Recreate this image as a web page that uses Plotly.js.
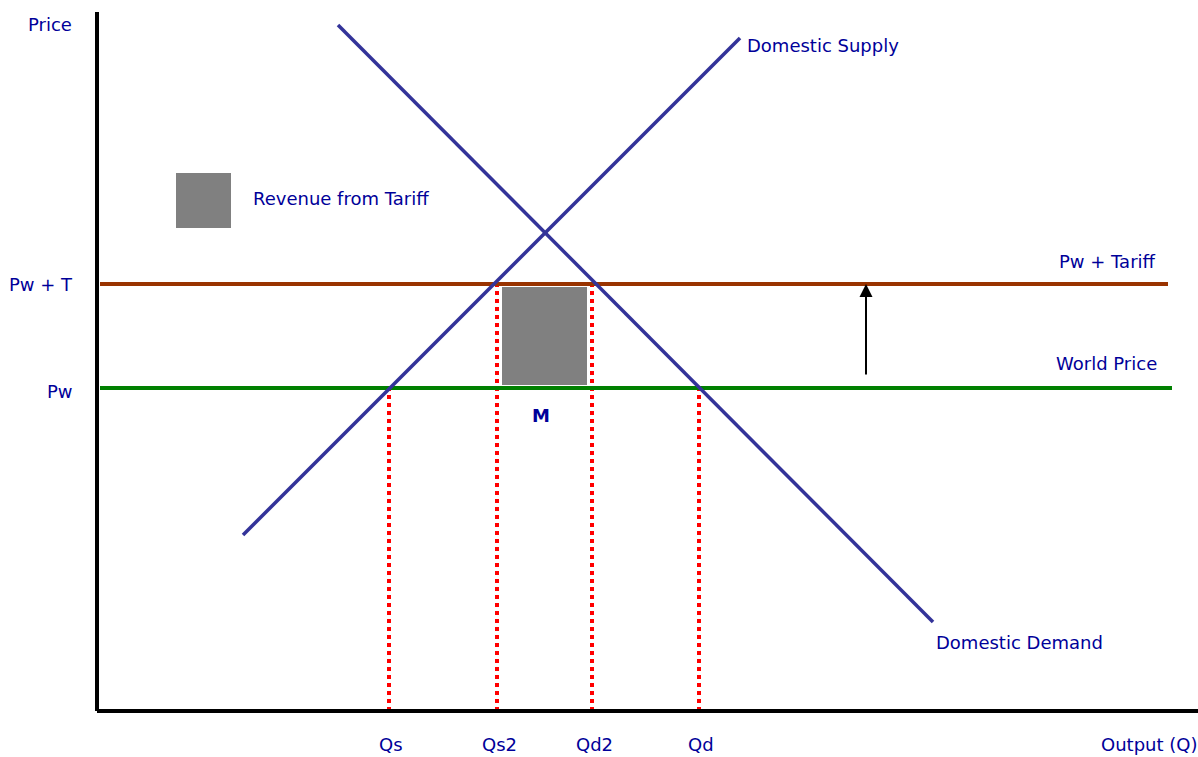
<!DOCTYPE html>
<html>
<head>
<meta charset="utf-8">
<script src="https://cdn.plot.ly/plotly-3.0.1.min.js"></script>
<style>html,body{margin:0;padding:0;background:#fff;}#chart{width:1198px;height:757px;}</style>
</head>
<body>
<div id="chart"></div>
<script>
// Chart values (Q = quantity units, P = price units)
const supplyQ = [14.6, 64.3];
const supplyP = [17.6, 67.3];
const demandQ = [24.1, 83.6];
const demandP = [68.6, 8.9];
const worldPrice = 32.3;
const tariffPrice = 42.7;
const priceLineQ = [0.3, 107.5];
const tariffLineQ = [0.3, 107.1];
const qLabels = ["Qs", "Qs2", "Qd2", "Qd"];
const qValues = [29.2, 40.0, 49.5, 60.2];
const qPrices = [32.3, 42.7, 42.7, 32.3];
const revenueQ = [40.5, 49.0];
const revenueP = [32.6, 42.4];
const legendQ = [7.9, 13.4];
const legendP = [48.3, 53.8];
const arrowQ = 76.9;
const arrowP = [33.5, 42.7];
const axisQmax = 110.1;
const axisPmax = 69.9;

const txt = '#000099';
const font = {family: '"DejaVu Sans", "Open Sans", sans-serif', size: 18, color: txt};

const traces = [];
function rect(q, p, color) {
  traces.push({x:[q[0],q[1],q[1],q[0],q[0]], y:[p[0],p[0],p[1],p[1],p[0]],
    mode:'lines', fill:'toself', fillcolor:color, line:{width:0, color:color}, hoverinfo:'skip'});
}
rect(revenueQ, revenueP, '#808080');
rect(legendQ, legendP, '#808080');
// dotted reference lines
qValues.forEach((q,i) => traces.push({x:[q,q], y:[0,qPrices[i]], mode:'lines',
  line:{color:'#ff0000', width:4, dash:'4px,4px'}, hoverinfo:'skip'}));
traces.push({x:priceLineQ, y:[worldPrice, worldPrice], mode:'lines', line:{color:'#008000', width:4}, hoverinfo:'skip'});
traces.push({x:tariffLineQ, y:[tariffPrice, tariffPrice], mode:'lines', line:{color:'#993300', width:4}, hoverinfo:'skip'});
traces.push({x:supplyQ, y:supplyP, mode:'lines', line:{color:'#333399', width:3.5}, hoverinfo:'skip'});
traces.push({x:demandQ, y:demandP, mode:'lines', line:{color:'#333399', width:3.5}, hoverinfo:'skip'});
// axes
traces.push({x:[0,0], y:[0,axisPmax], mode:'lines', line:{color:'#000', width:4}, hoverinfo:'skip'});
traces.push({x:[0,axisQmax], y:[0,0], mode:'lines', line:{color:'#000', width:4}, hoverinfo:'skip'});

function lab(text, x, y, xanchor, extra) {
  return Object.assign({text:text, x:x, y:y, xref:'x', yref:'y', xanchor:xanchor, yanchor:'middle',
    showarrow:false, font:font, borderpad:0}, extra||{});
}
const bottomY = -4.5;
const annotations = [
  lab('Price', -2.4, 68.7, 'right'),
  lab('Pw + T', -2.3, tariffPrice, 'right'),
  lab('Pw', -2.3, worldPrice - 0.3, 'right'),
  lab('Revenue from Tariff', 15.5, 51.3, 'left'),
  lab('Domestic Supply', 64.9, 66.6, 'left'),
  lab('Pw + Tariff', 106.0, 45.0, 'right'),
  lab('World Price', 106.1, 34.8, 'right'),
  lab('<b>M</b>', 44.4, 29.6, 'center'),
  lab('Domestic Demand', 83.8, 6.9, 'left'),
  lab('Output (Q)', 110.05, bottomY, 'right', {yanchor:'bottom'}),
  {x:arrowQ, y:arrowP[1], ax:arrowQ, ay:arrowP[0], xref:'x', yref:'y', axref:'x', ayref:'y',
   showarrow:true, arrowhead:2, arrowsize:1.3, arrowwidth:2, arrowcolor:'#000', text:''}
];
qLabels.forEach((t,i) => annotations.push(lab(t, qValues[i] + 0.2, bottomY, 'center', {yanchor:'bottom'})));

const layout = {
  width:1198, height:757, margin:{l:0,r:0,t:0,b:0}, showlegend:false,
  paper_bgcolor:'#fff', plot_bgcolor:'#fff',
  xaxis:{range:[-9.7, 110.1], visible:false, fixedrange:true},
  yaxis:{range:[-4.6, 71.1], visible:false, fixedrange:true},
  annotations: annotations
};
Plotly.newPlot('chart', traces, layout, {staticPlot:true, displayModeBar:false});
</script>
</body>
</html>
